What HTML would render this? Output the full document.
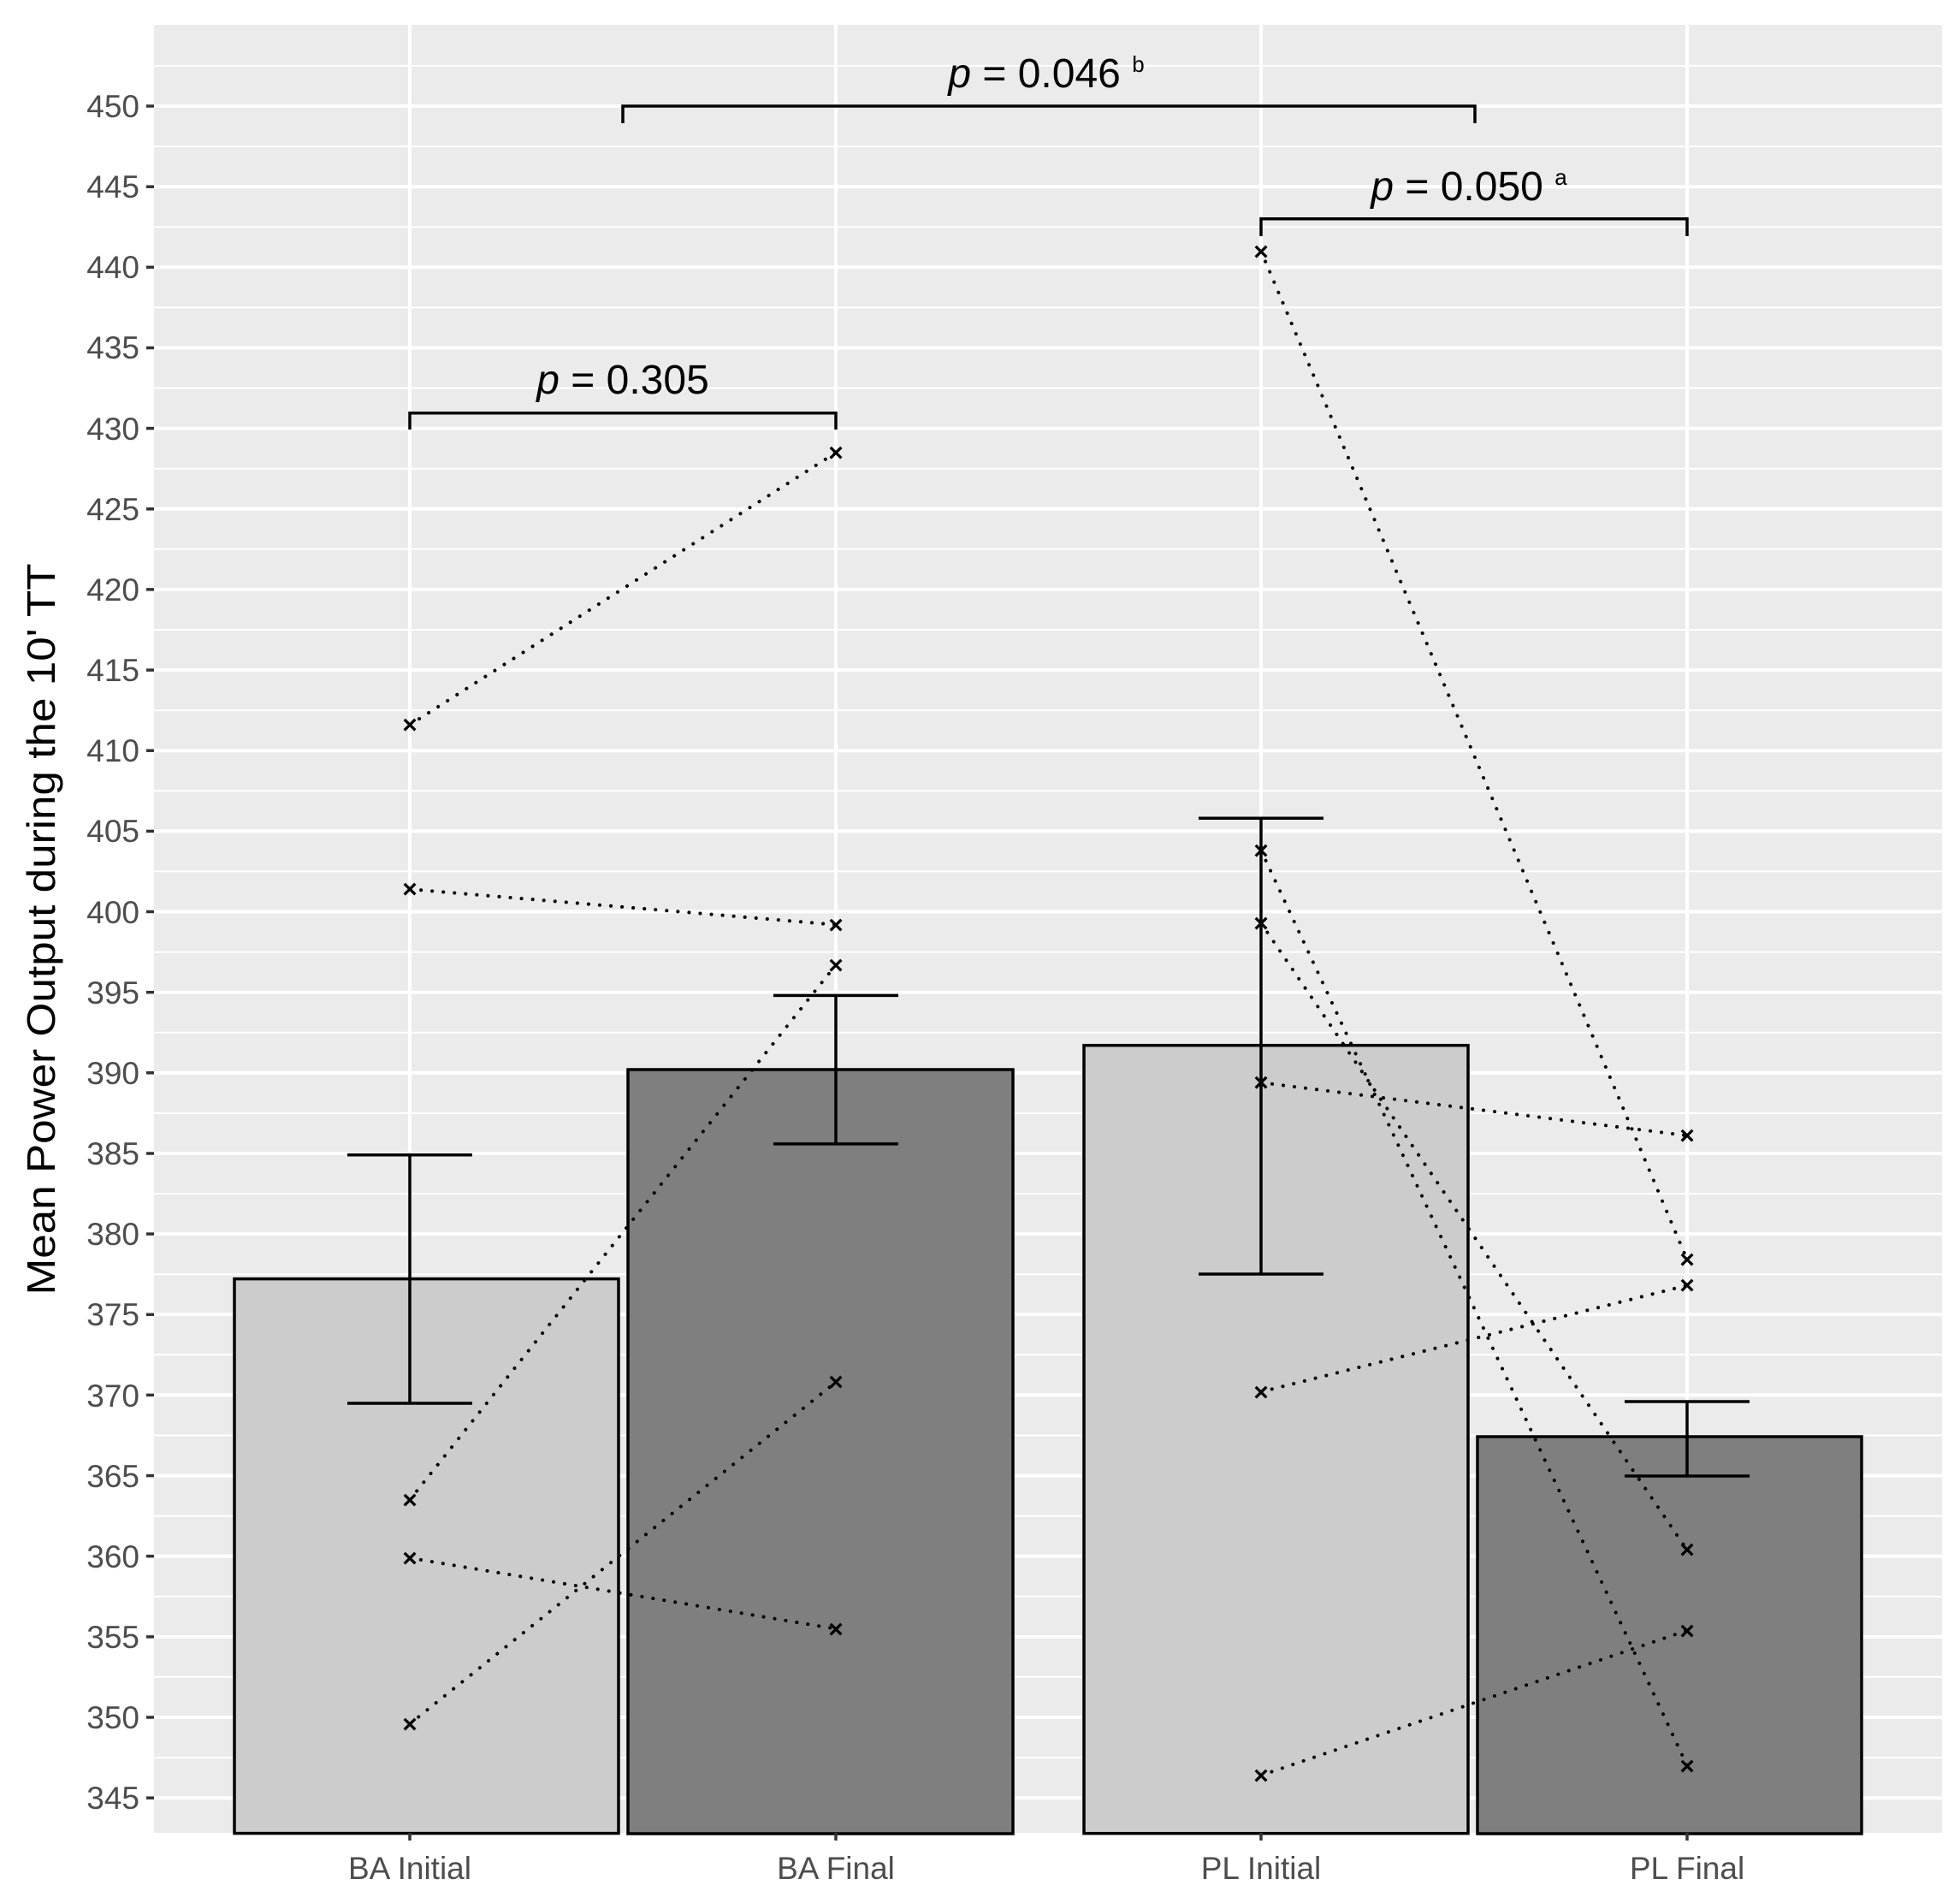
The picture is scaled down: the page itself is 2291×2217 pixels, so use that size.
<!DOCTYPE html>
<html><head><meta charset="utf-8"><style>html,body{margin:0;padding:0;background:#fff}svg{display:block}</style></head>
<body>
<svg width="2291" height="2217" viewBox="0 0 2291 2217" xmlns="http://www.w3.org/2000/svg" font-family="Liberation Sans, Arial, sans-serif">
<rect x="0" y="0" width="2291" height="2217" fill="#fff"/>
<rect x="180" y="29" width="2090" height="2113" fill="#ebebeb"/>
<g stroke="#fff" stroke-width="2">
<line x1="180" x2="2270" y1="76.9" y2="76.9"/><line x1="180" x2="2270" y1="171.1" y2="171.1"/><line x1="180" x2="2270" y1="265.2" y2="265.2"/><line x1="180" x2="2270" y1="359.4" y2="359.4"/><line x1="180" x2="2270" y1="453.5" y2="453.5"/><line x1="180" x2="2270" y1="547.7" y2="547.7"/><line x1="180" x2="2270" y1="641.8" y2="641.8"/><line x1="180" x2="2270" y1="736" y2="736"/><line x1="180" x2="2270" y1="830.1" y2="830.1"/><line x1="180" x2="2270" y1="924.3" y2="924.3"/><line x1="180" x2="2270" y1="1018.4" y2="1018.4"/><line x1="180" x2="2270" y1="1112.6" y2="1112.6"/><line x1="180" x2="2270" y1="1206.7" y2="1206.7"/><line x1="180" x2="2270" y1="1300.9" y2="1300.9"/><line x1="180" x2="2270" y1="1395" y2="1395"/><line x1="180" x2="2270" y1="1489.2" y2="1489.2"/><line x1="180" x2="2270" y1="1583.3" y2="1583.3"/><line x1="180" x2="2270" y1="1677.5" y2="1677.5"/><line x1="180" x2="2270" y1="1771.6" y2="1771.6"/><line x1="180" x2="2270" y1="1865.8" y2="1865.8"/><line x1="180" x2="2270" y1="1959.9" y2="1959.9"/><line x1="180" x2="2270" y1="2054.1" y2="2054.1"/>
</g>
<g stroke="#fff" stroke-width="4">
<line x1="180" x2="2270" y1="124" y2="124"/><line x1="180" x2="2270" y1="218.2" y2="218.2"/><line x1="180" x2="2270" y1="312.3" y2="312.3"/><line x1="180" x2="2270" y1="406.5" y2="406.5"/><line x1="180" x2="2270" y1="500.6" y2="500.6"/><line x1="180" x2="2270" y1="594.8" y2="594.8"/><line x1="180" x2="2270" y1="688.9" y2="688.9"/><line x1="180" x2="2270" y1="783.1" y2="783.1"/><line x1="180" x2="2270" y1="877.2" y2="877.2"/><line x1="180" x2="2270" y1="971.4" y2="971.4"/><line x1="180" x2="2270" y1="1065.5" y2="1065.5"/><line x1="180" x2="2270" y1="1159.7" y2="1159.7"/><line x1="180" x2="2270" y1="1253.8" y2="1253.8"/><line x1="180" x2="2270" y1="1348" y2="1348"/><line x1="180" x2="2270" y1="1442.1" y2="1442.1"/><line x1="180" x2="2270" y1="1536.3" y2="1536.3"/><line x1="180" x2="2270" y1="1630.4" y2="1630.4"/><line x1="180" x2="2270" y1="1724.6" y2="1724.6"/><line x1="180" x2="2270" y1="1818.7" y2="1818.7"/><line x1="180" x2="2270" y1="1912.9" y2="1912.9"/><line x1="180" x2="2270" y1="2007" y2="2007"/><line x1="180" x2="2270" y1="2101.2" y2="2101.2"/>
<line x1="479" x2="479" y1="29" y2="2142"/><line x1="977" x2="977" y1="29" y2="2142"/><line x1="1474" x2="1474" y1="29" y2="2142"/><line x1="1972" x2="1972" y1="29" y2="2142"/>
</g>
<g stroke="#000" stroke-width="3.5">
<rect x="274" y="1494.6" width="449" height="648" fill="#cccccc"/>
<rect x="734" y="1250" width="450" height="893" fill="#7f7f7f"/>
<rect x="1267" y="1221.7" width="449" height="921" fill="#cccccc"/>
<rect x="1727" y="1679" width="449" height="464" fill="#7f7f7f"/>
</g>
<g stroke="#000" stroke-width="3.5" fill="none">
<path d="M406 1349.8H552M479 1349.8V1640M406 1640H552"/>
<path d="M904 1163.4H1050M977 1163.4V1336.9M904 1336.9H1050"/>
<path d="M1401 956.3H1547M1474 956.3V1489M1401 1489H1547"/>
<path d="M1899 1638H2045M1972 1638V1725M1899 1725H2045"/>
</g>
<g stroke="#000" stroke-width="4" stroke-dasharray="0.1 13" stroke-linecap="round" fill="none">
<line x1="479" y1="847.1" x2="977" y2="529"/>
<line x1="479" y1="1039.2" x2="977" y2="1080.7"/>
<line x1="479" y1="1752.8" x2="977" y2="1127.7"/>
<line x1="479" y1="1820.8" x2="977" y2="1903.6"/>
<line x1="479" y1="2014.7" x2="977" y2="1615.3"/>
<line x1="1474" y1="293.5" x2="1972" y2="1472.1"/>
<line x1="1474" y1="993.8" x2="1972" y2="2063.5"/>
<line x1="1474" y1="1078.8" x2="1972" y2="1811.4"/>
<line x1="1474" y1="1265.2" x2="1972" y2="1327.1"/>
<line x1="1474" y1="1626.6" x2="1972" y2="1502.2"/>
<line x1="1474" y1="2074.8" x2="1972" y2="1905.5"/>
</g>
<g font-size="30" font-weight="bold" text-anchor="middle" fill="#000">
<text x="479" y="857">×</text><text x="977" y="539">×</text>
<text x="479" y="1049">×</text><text x="977" y="1091">×</text>
<text x="479" y="1763">×</text><text x="977" y="1138">×</text>
<text x="479" y="1831">×</text><text x="977" y="1914">×</text>
<text x="479" y="2025">×</text><text x="977" y="1625">×</text>
<text x="1474" y="304">×</text><text x="1474" y="1004">×</text><text x="1474" y="1089">×</text><text x="1474" y="1275">×</text><text x="1474" y="1637">×</text><text x="1474" y="2085">×</text>
<text x="1972" y="1337">×</text><text x="1972" y="1482">×</text><text x="1972" y="1512">×</text><text x="1972" y="1821">×</text><text x="1972" y="1916">×</text><text x="1972" y="2074">×</text>
</g>
<g stroke="#000" stroke-width="3.5" fill="none">
<path d="M479 502V482.7H977V502"/>
<path d="M728 144V124H1724V144"/>
<path d="M1474 276V255.8H1972V276"/>
</g>
<g font-size="48" fill="#000" text-anchor="middle">
<text x="728" y="460"><tspan font-style="italic">p</tspan> = 0.305</text>
<text x="1223" y="102"><tspan font-style="italic">p</tspan> = 0.046 <tspan font-size="26" dy="-18">b</tspan></text>
<text x="1717" y="234"><tspan font-style="italic">p</tspan> = 0.050 <tspan font-size="26" dy="-18">a</tspan></text>
</g>
<g stroke="#333" stroke-width="3.5">
<line x1="171" x2="180" y1="124" y2="124"/><line x1="171" x2="180" y1="218.2" y2="218.2"/><line x1="171" x2="180" y1="312.3" y2="312.3"/><line x1="171" x2="180" y1="406.5" y2="406.5"/><line x1="171" x2="180" y1="500.6" y2="500.6"/><line x1="171" x2="180" y1="594.8" y2="594.8"/><line x1="171" x2="180" y1="688.9" y2="688.9"/><line x1="171" x2="180" y1="783.1" y2="783.1"/><line x1="171" x2="180" y1="877.2" y2="877.2"/><line x1="171" x2="180" y1="971.4" y2="971.4"/><line x1="171" x2="180" y1="1065.5" y2="1065.5"/><line x1="171" x2="180" y1="1159.7" y2="1159.7"/><line x1="171" x2="180" y1="1253.8" y2="1253.8"/><line x1="171" x2="180" y1="1348" y2="1348"/><line x1="171" x2="180" y1="1442.1" y2="1442.1"/><line x1="171" x2="180" y1="1536.3" y2="1536.3"/><line x1="171" x2="180" y1="1630.4" y2="1630.4"/><line x1="171" x2="180" y1="1724.6" y2="1724.6"/><line x1="171" x2="180" y1="1818.7" y2="1818.7"/><line x1="171" x2="180" y1="1912.9" y2="1912.9"/><line x1="171" x2="180" y1="2007" y2="2007"/><line x1="171" x2="180" y1="2101.2" y2="2101.2"/>
<line x1="479" x2="479" y1="2142" y2="2151"/><line x1="977" x2="977" y1="2142" y2="2151"/><line x1="1474" x2="1474" y1="2142" y2="2151"/><line x1="1972" x2="1972" y1="2142" y2="2151"/>
</g>
<g font-size="37" fill="#4d4d4d" text-anchor="end">
<text x="163" y="137">450</text><text x="163" y="231">445</text><text x="163" y="325">440</text><text x="163" y="419">435</text><text x="163" y="514">430</text><text x="163" y="608">425</text><text x="163" y="702">420</text><text x="163" y="796">415</text><text x="163" y="890">410</text><text x="163" y="984">405</text><text x="163" y="1079">400</text><text x="163" y="1173">395</text><text x="163" y="1267">390</text><text x="163" y="1361">385</text><text x="163" y="1455">380</text><text x="163" y="1549">375</text><text x="163" y="1644">370</text><text x="163" y="1738">365</text><text x="163" y="1832">360</text><text x="163" y="1926">355</text><text x="163" y="2020">350</text><text x="163" y="2114">345</text>
</g>
<g font-size="37" fill="#4d4d4d" text-anchor="middle">
<text x="479" y="2196">BA Initial</text><text x="977" y="2196">BA Final</text><text x="1474" y="2196">PL Initial</text><text x="1972" y="2196">PL Final</text>
</g>
<text transform="translate(64,1086) rotate(-90)" font-size="46" fill="#000" text-anchor="middle" textLength="855" lengthAdjust="spacingAndGlyphs">Mean Power Output during the 10' TT</text>
</svg>
</body></html>
